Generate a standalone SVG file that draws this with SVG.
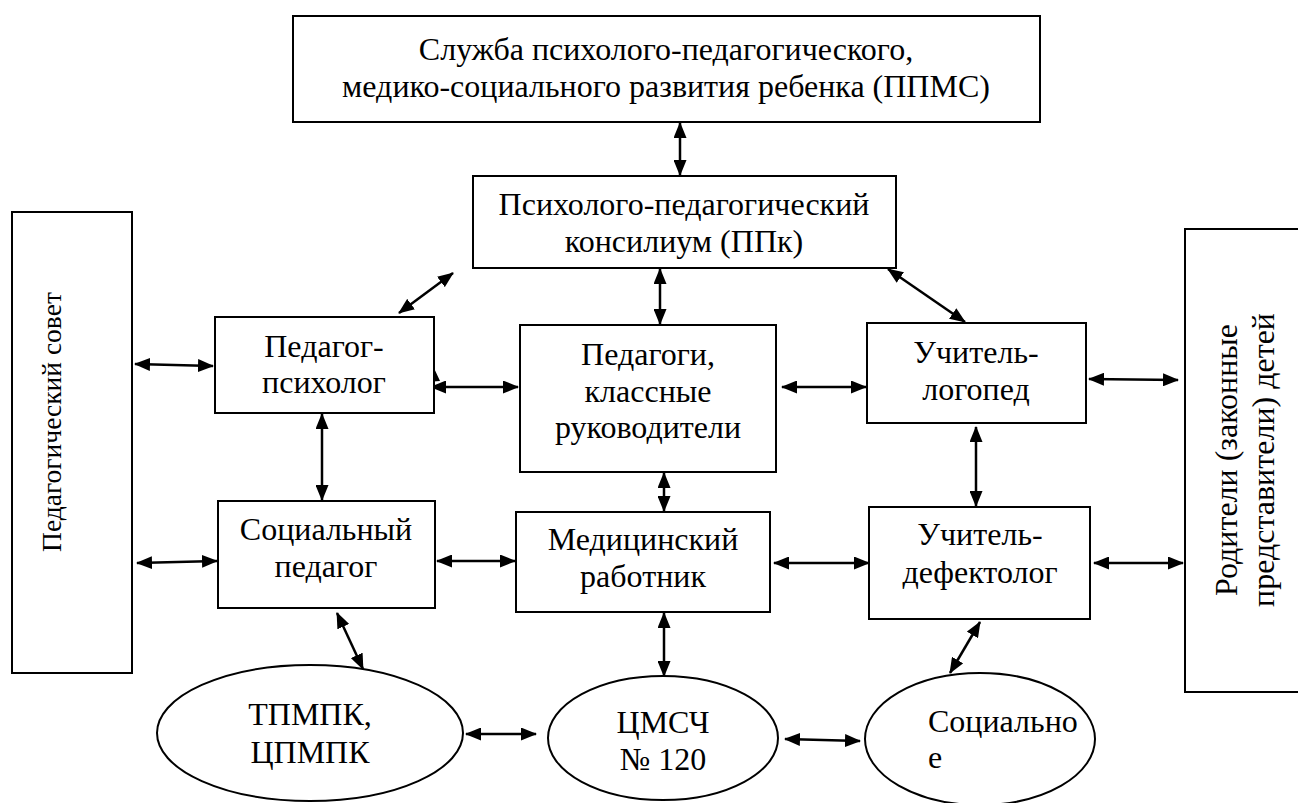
<svg xmlns="http://www.w3.org/2000/svg" width="1298" height="803" viewBox="0 0 1298 803">
<defs>
<style>
.box{fill:#fff;stroke:#000;stroke-width:2}
text{font-family:'Liberation Serif','Times New Roman',Tinos,'DejaVu Serif',serif;font-size:32px;fill:#000}
.t{text-anchor:middle}
.small{font-size:27.5px}
.c{stroke:#000;stroke-width:2.5;fill:none;marker-start:url(#ah);marker-end:url(#ah)}
</style>
<marker id="ah" viewBox="0 0 16 13" refX="15" refY="6.5" markerWidth="16" markerHeight="13" markerUnits="userSpaceOnUse" orient="auto-start-reverse">
<path d="M0,0 L16,6.5 L0,13 z" fill="#000"/>
</marker>
</defs>
<rect width="1298" height="803" fill="#fff"/>
<g id="connectors">
<line class="c" x1="680" y1="123" x2="680" y2="175"/>
<line class="c" x1="453" y1="273" x2="399" y2="313"/>
<line class="c" x1="660" y1="269" x2="660" y2="324"/>
<line class="c" x1="888" y1="269" x2="965" y2="322"/>
<line class="c" x1="135" y1="364" x2="213" y2="366"/>
<line class="c" x1="431" y1="387" x2="518" y2="387"/>
<path d="M433,366 L426,382 L440,381 z" fill="#000"/>
<line class="c" x1="782" y1="387" x2="866" y2="387"/>
<line class="c" x1="1089" y1="379" x2="1178" y2="380"/>
<line class="c" x1="322" y1="414" x2="322" y2="500"/>
<line class="c" x1="664" y1="473" x2="664" y2="511"/>
<line class="c" x1="976" y1="427" x2="976" y2="506"/>
<line class="c" x1="137" y1="563" x2="217" y2="561"/>
<line class="c" x1="437" y1="561" x2="515" y2="561"/>
<line class="c" x1="774" y1="563" x2="869" y2="563"/>
<line class="c" x1="1094" y1="563" x2="1183" y2="563"/>
<line class="c" x1="337" y1="613" x2="363" y2="669"/>
<line class="c" x1="664" y1="613" x2="664" y2="676"/>
<line class="c" x1="980" y1="622" x2="950" y2="673"/>
<line class="c" x1="466" y1="734" x2="536" y2="734"/>
<line class="c" x1="785" y1="739" x2="860" y2="741"/>
</g>
<g id="ppms">
<rect class="box" x="293" y="16" width="747" height="106"/>
<text class="t" x="666" y="60">Служба психолого-педагогического,</text>
<text class="t" x="666" y="97">медико-социального развития ребенка (ППМС)</text>
</g>
<g id="ppk">
<rect class="box" x="473" y="176" width="423" height="92"/>
<text class="t" x="684" y="215">Психолого-педагогический</text>
<text class="t" x="684" y="252">консилиум (ППк)</text>
</g>
<g id="pedsovet">
<rect class="box" x="12" y="212" width="120" height="461"/>
<text class="t small" transform="translate(61,422) rotate(-90)">Педагогический совет</text>
</g>
<g id="roditeli">
<rect class="box" x="1185" y="229" width="130" height="463"/>
<text class="t" transform="translate(1237,460) rotate(-90)">Родители (законные</text>
<text class="t" transform="translate(1274,460) rotate(-90)">представители) детей</text>
</g>
<g id="psiholog">
<rect class="box" x="215" y="317" width="219" height="96"/>
<text class="t" x="324" y="357">Педагог-</text>
<text class="t" x="324" y="393">психолог</text>
</g>
<g id="pedagogi">
<rect class="box" x="520" y="325" width="256" height="147"/>
<text class="t" x="648" y="365">Педагоги,</text>
<text class="t" x="648" y="402">классные</text>
<text class="t" x="648" y="438">руководители</text>
</g>
<g id="logoped">
<rect class="box" x="867" y="323" width="219" height="100"/>
<text class="t" x="976" y="363">Учитель-</text>
<text class="t" x="976" y="400">логопед</text>
</g>
<g id="socped">
<rect class="box" x="218" y="501" width="217" height="107"/>
<text class="t" x="326" y="540">Социальный</text>
<text class="t" x="326" y="577">педагог</text>
</g>
<g id="medrab">
<rect class="box" x="516" y="512" width="254" height="100"/>
<text class="t" x="643" y="550">Медицинский</text>
<text class="t" x="643" y="587">работник</text>
</g>
<g id="defektolog">
<rect class="box" x="869" y="507" width="221" height="112"/>
<text class="t" x="980" y="545">Учитель-</text>
<text class="t" x="980" y="583">дефектолог</text>
</g>
<g id="tpmpk">
<ellipse class="box" cx="310" cy="733" rx="153" ry="68"/>
<text class="t" x="310" y="725">ТПМПК,</text>
<text class="t" x="310" y="763">ЦПМПК</text>
</g>
<g id="cmsch">
<ellipse class="box" cx="663" cy="738" rx="115" ry="62"/>
<text class="t" x="663" y="733">ЦМСЧ</text>
<text class="t" x="663" y="770">№ 120</text>
</g>
<g id="socialnoe">
<ellipse class="box" cx="980" cy="739" rx="115" ry="66"/>
<text x="928" y="732">Социально</text>
<text x="928" y="768">е</text>
</g>
</svg>
